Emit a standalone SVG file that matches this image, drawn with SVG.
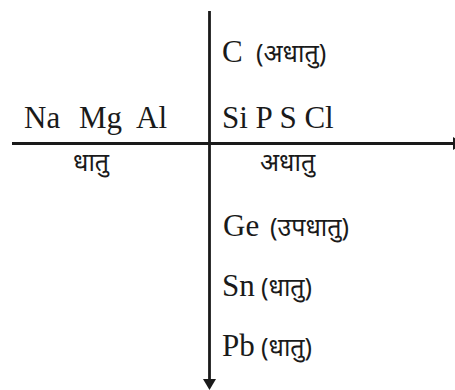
<svg xmlns="http://www.w3.org/2000/svg" width="455" height="390" viewBox="0 0 455 390">
<defs>
<style>
.lat{font-family:"Liberation Serif","Times New Roman",serif;font-size:31px;fill:#1a1a1a}
.dev{font-family:"Noto Sans","Lohit Devanagari","FreeSans",sans-serif;font-size:25px;fill:#1a1a1a}
.ax{stroke:#1a1a1a;stroke-width:2.8;fill:none}
</style>
</defs>
<rect width="455" height="390" fill="#fff"/>
<g id="axes">
<line class="ax" x1="209.5" y1="11" x2="209.5" y2="380"/>
<polygon points="203,379 216,379 209.5,390" fill="#1a1a1a"/>
<line class="ax" x1="12" y1="143.5" x2="454" y2="143.5"/>
<polygon points="453,137 453,150 464,143.5" fill="#1a1a1a"/>
</g>
<g id="n-c"><text class="lat" x="222" y="62">C</text><text class="dev" x="256" y="62">(अधातु)</text></g>
<g id="n-namgal"><text class="lat" y="128"><tspan x="24">Na</tspan><tspan x="79">Mg</tspan><tspan x="136">Al</tspan></text></g>
<g id="n-sipscl"><text class="lat" x="222" y="128">Si P S Cl</text></g>
<g id="n-dhatu"><text class="dev" x="73" y="171">धातु</text></g>
<g id="n-adhatu"><text class="dev" x="260" y="171">अधातु</text></g>
<g id="n-ge"><text class="lat" x="223" y="236">Ge</text><text class="dev" x="270" y="236">(उपधातु)</text></g>
<g id="n-sn"><text class="lat" x="222" y="296">Sn</text><text class="dev" x="261" y="296">(धातु)</text></g>
<g id="n-pb"><text class="lat" x="222" y="356">Pb</text><text class="dev" x="261" y="356">(धातु)</text></g>
</svg>
